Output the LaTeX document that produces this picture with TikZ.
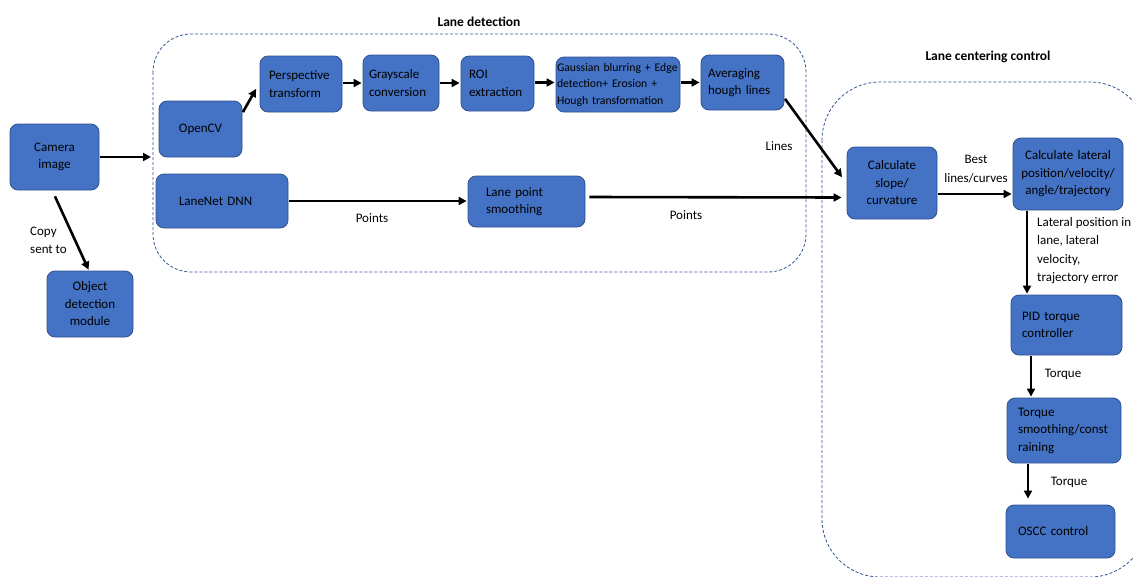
\documentclass[tikz,border=0pt]{standalone}
\usepackage{fontspec}
\setmainfont{Carlito}
\usetikzlibrary{arrows.meta,calc}
\definecolor{boxfill}{HTML}{4472C4}
\definecolor{boxedge}{HTML}{2F528F}
\definecolor{dashc}{HTML}{2F5597}
\tikzset{
 blk/.style={draw=boxedge, fill=boxfill, line width=0.8pt, rounded corners=8pt, font=\fontsize{13}{17.5}\selectfont, text=black, inner ysep=0pt},
 arr/.style={line width=2.6pt, -{Triangle[length=8pt,width=8pt]}, shorten <=1pt, shorten >=1pt},
 lbl/.style={font=\fontsize{13}{18.3}\selectfont, inner sep=0pt, text=black},
 grp/.style={draw=dashc, dash pattern=on 3pt off 2pt, line width=0.8pt},
 ttl/.style={font=\bfseries\fontsize{13.5}{16}\selectfont, inner sep=0pt}
}
\begin{document}
\begin{tikzpicture}[x=1pt,y=-1pt]
\useasboundingbox[fill=white] (0,0) rectangle (1133,576);
% containers
\draw[grp, rounded corners=38pt] (153,34) rectangle (806,272);
\draw[grp, rounded corners=58pt] (822,82) rectangle (1148,577);
\node[ttl] (t1) at (479,22) {Lane detection};
\node[ttl] (t2) at (988,57) {Lane centering control};
% boxes
\node[blk, align=center, text width=81pt, inner xsep=4pt, minimum height=66pt] (cam) at (54.5,157) {Camera\\image};
\node[blk, align=center, text width=78pt, inner xsep=4pt, minimum height=66pt] (obj) at (90,304) {Object\\detection\\module};
\node[blk, align=center, text width=75pt, inner xsep=4pt, minimum height=56pt] (ocv) at (200.5,129) {OpenCV};
\node[blk, align=left, text width=86pt, inner xsep=23pt, minimum height=54pt] (lnet) at (222,201) {LaneNet DNN};
\node[blk, align=left, text width=64pt, inner xsep=9pt, minimum height=56pt] (persp) at (301,84) {Perspective\\transform};
\node[blk, align=left, text width=64pt, inner xsep=6pt, minimum height=56pt] (gray) at (401,83) {Grayscale\\conversion};
\node[blk, align=left, text width=57pt, inner xsep=8pt, minimum height=55pt] (roi) at (497.5,83.5) {ROI\\extraction};
\node[blk, align=left, text width=122pt, inner xsep=1pt, minimum height=55pt, font=\fontsize{11.7}{16.5}\selectfont] (gauss) at (618,84.5) {Gaussian blurring + Edge\\detection+ Erosion +\\Hough transformation};
\node[blk, align=left, text width=69pt, inner xsep=7pt, minimum height=55pt] (avg) at (742.5,82.5) {Averaging\\hough lines};
\node[blk, align=left, text width=81pt, inner xsep=18pt, minimum height=51pt] (lps) at (526.5,201.5) {Lane point\\smoothing};
\node[blk, align=center, text width=82pt, inner xsep=4pt, minimum height=72pt] (slope) at (892,183) {Calculate\\slope/\\curvature};
\node[blk, align=center, text width=102pt, inner xsep=4pt, minimum height=72pt] (lat) at (1068,174) {Calculate lateral\\position/velocity/\\angle/trajectory};
\node[blk, align=left, text width=89pt, inner xsep=11pt, minimum height=60pt] (pid) at (1066.5,325) {PID torque\\controller};
\node[blk, align=left, text width=92pt, inner xsep=11pt, minimum height=65pt] (tsm) at (1064,430.5) {Torque\\smoothing/const\\raining};
\node[blk, align=left, text width=85pt, inner xsep=12pt, minimum height=53pt] (oscc) at (1060.5,531.5) {OSCC control};
% connector ends
\coordinate (ldin) at (152,157);
% arrows
\draw[arr] (cam.east) -- (ldin);
\draw[arr] ([yshift=-5pt]cam.south) -- ([xshift=-1pt]obj.north);
\draw[arr] ([yshift=16pt]ocv.east) -- ([xshift=-3pt,yshift=-4pt]persp.west);
\draw[arr] ([yshift=1pt]persp.east) -- ([yshift=1pt]persp.east -| gray.west);
\draw[arr] (gray.east) -- (gray.east -| roi.west);
\draw[arr] ([yshift=1pt]roi.east) -- ([yshift=1pt]roi.east -| gauss.west);
\draw[arr] ([yshift=2pt]gauss.east) -- ([yshift=2pt]gauss.east -| avg.west);
\draw[arr] ([yshift=-15.5pt]avg.east) -- ([xshift=-4pt,yshift=5pt]slope.west);
\draw[arr] (lnet.east) -- (lnet.east -| lps.west);
\draw[arr] ([xshift=3pt,yshift=4.5pt]lps.east) -- ([xshift=-4pt,yshift=-14.5pt]slope.west);
\draw[arr] ([yshift=-11pt]slope.east) -- ([yshift=-11pt]slope.east -| lat.west);
\draw[arr] ([xshift=-41pt]lat.south) -- ([xshift=-41pt]lat.south |- pid.north);
\draw[arr] ([xshift=-35.5pt]pid.south) -- ([xshift=-35.5pt]pid.south |- tsm.north);
\draw[arr] ([xshift=-36pt]tsm.south) -- ([xshift=-36pt,yshift=5pt]tsm.south |- oscc.north);
% labels
\node[lbl, align=left, anchor=west] (lcopy) at (30,240) {Copy\\sent to};
\node[lbl] (lp1) at (372,218) {Points};
\node[lbl] (lp2) at (686,215) {Points};
\node[lbl] (llines) at (779,146) {Lines};
\node[lbl, align=center] (lbest) at (976,169) {Best\\lines/curves};
\node[lbl, align=left, anchor=west] (llat) at (1037,250.5) {Lateral position in\\lane, lateral\\velocity,\\trajectory error};
\node[lbl] (ltq1) at (1063,374) {Torque};
\node[lbl] (ltq2) at (1069,482) {Torque};
\end{tikzpicture}
\end{document}
